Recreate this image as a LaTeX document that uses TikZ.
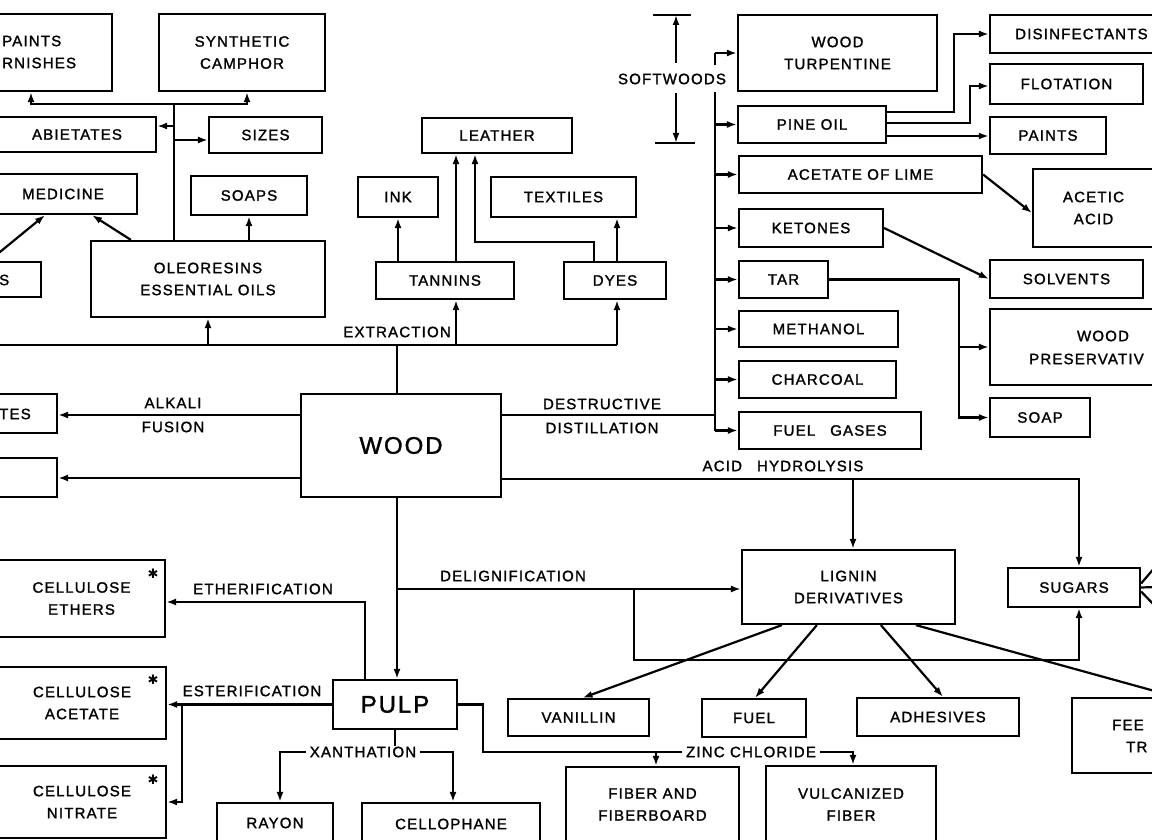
\documentclass[tikz,border=0pt]{standalone}
\usepackage{fontspec}
\setmainfont{Liberation Sans}[LetterSpace=8,FakeBold=1.5]
\newfontfamily\djv{DejaVu Sans}
\usetikzlibrary{arrows.meta,calc}
\newcommand\fs{\fontsize{15}{22}\selectfont}
\newcommand\bigfs{\fontsize{24}{28}\selectfont}
\newcommand\bx[6]{\node[box,minimum width={(#4-#2)*1pt},minimum height={(#5-#3)*1pt}] (#1) at ({(#2+#4)/2},{(#3+#5)/2}) {#6};}
\begin{document}
\begin{tikzpicture}[x=1pt,y=-1pt,
  box/.style={draw,line width=2.2pt,inner sep=0pt,align=center,font=\fs},
  lbl/.style={inner sep=1pt,font=\fs},
  conn/.style={line width=2.2pt},
  arr/.style={conn,-{Latex[length=10pt,width=7pt]}},
  star/.style={inner sep=0pt,font=\djv\fontsize{13}{13}\selectfont}]
\useasboundingbox (0,0) rectangle (1152,840);
\clip (0,0) rectangle (1152,840);
\fill[white] (0,0) rectangle (1152,840);

% ---------- top left ----------
\bx{paints}{-58}{14}{112}{91}{}
\node[lbl,anchor=west] (paintstxt1) at (1,41) {PAINTS};
\node[lbl,anchor=west] (paintstxt2) at (1,63) {RNISHES};
\bx{camphor}{159}{14}{325}{91}{SYNTHETIC\\CAMPHOR}
\bx{abietates}{-2}{117}{156}{152}{ABIETATES}
\bx{sizes}{209}{117}{322}{153}{SIZES}
\bx{medicine}{-11}{174}{137}{214}{MEDICINE}
\bx{soaps}{191}{176}{307}{215}{SOAPS}
\bx{oleo}{91}{241}{325}{317}{OLEORESINS\\ESSENTIAL OILS}
\bx{sbox}{-60}{262}{41}{297}{}
\node[lbl,anchor=west] (stxt) at (-2,280) {S};
\bx{tes}{-60}{394}{57}{433}{}
\node[lbl,anchor=west] (testxt) at (-2,414) {TES};
\bx{box2}{-60}{458}{57}{497}{}

% ---------- extraction products ----------
\bx{ink}{358}{177}{438}{217}{INK}
\bx{leather}{422}{118}{572}{153}{LEATHER}
\bx{textiles}{491}{177}{636}{217}{TEXTILES}
\bx{tannins}{376}{262}{514}{299}{TANNINS}
\bx{dyes}{564}{262}{666}{299}{DYES}

% ---------- wood ----------
\node[box,font=\bigfs,minimum width=200pt,minimum height=103pt] (wood) at (401,445.5) {WOOD};

% ---------- distillation products ----------
\bx{turp}{738}{15}{937}{91}{WOOD\\TURPENTINE}
\bx{pineoil}{738}{106}{886}{143}{PINE OIL}
\bx{disinf}{990}{15}{1200}{53}{}
\node[lbl,anchor=west] (disinftxt) at (1014,34) {DISINFECTANTS};
\bx{flotation}{990}{64}{1143}{104}{FLOTATION}
\bx{paintsb}{990}{117}{1106}{154}{PAINTS}
\bx{acetate}{739}{156}{982}{193}{ACETATE OF LIME}
\bx{acetic}{1033}{169}{1154}{247}{ACETIC\\ACID}
\bx{ketones}{739}{209}{883}{247}{KETONES}
\bx{solvents}{990}{260}{1143}{298}{SOLVENTS}
\bx{tar}{739}{261}{828}{298}{TAR}
\bx{preserv}{990}{309}{1230}{385}{}
\node[lbl] (prestxt1) at (1103,336) {WOOD};
\node[lbl,anchor=west] (prestxt2) at (1028,359) {PRESERVATIV};
\bx{methanol}{739}{311}{898}{347}{METHANOL}
\bx{charcoal}{739}{361}{896}{398}{CHARCOAL}
\bx{soap}{990}{398}{1090}{437}{SOAP}
\bx{fuelgas}{739}{412}{921}{449}{FUEL\quad GASES}

% ---------- lignin / sugars ----------
\bx{lignin}{742}{550}{955}{624}{LIGNIN\\DERIVATIVES}
\bx{sugars}{1008}{568}{1140}{607}{SUGARS}
\bx{vanillin}{508}{699}{649}{736}{VANILLIN}
\bx{fuel}{702}{699}{806}{737}{FUEL}
\bx{adhes}{857}{698}{1019}{736}{ADHESIVES}
\bx{feed}{1072}{698}{1260}{773}{}
\node[lbl,anchor=west] (feedtxt1) at (1111,725) {FEE};
\node[lbl,anchor=west] (feedtxt2) at (1125,747) {TR};

% ---------- pulp ----------
\node[box,font=\bigfs,minimum width=124pt,minimum height=49pt] (pulp) at (395,704.5) {PULP};
\bx{cethers}{-2}{560}{165}{637}{CELLULOSE\\ETHERS}
\bx{cacet}{-2}{667}{166}{739}{CELLULOSE\\ACETATE}
\bx{cnitr}{-2}{766}{166}{838}{CELLULOSE\\NITRATE}
\node[star] (st1) at (153,574) {✱};
\node[star] (st2) at (153,680) {✱};
\node[star] (st3) at (153,780) {✱};
\bx{rayon}{217}{803}{333}{843}{RAYON}
\bx{cello}{362}{803}{540}{845}{CELLOPHANE}
\bx{fiber}{566}{767}{739}{842}{FIBER AND\\FIBERBOARD}
\bx{vulc}{766}{766}{936}{843}{VULCANIZED\\FIBER}

% ---------- oleoresin connectors ----------
\coordinate (t1) at (174,104);
\coordinate (ja) at (174,126);
\coordinate (js) at (174,140);
\draw[conn] (oleo.north -| t1) -- (t1);
\draw[arr] (t1) -| ($(paints.south)+(4,0)$);
\draw[arr] (t1) -| ($(camphor.south)+(5,0)$);
\draw[arr] (ja) -- (ja -| abietates.east);
\draw[arr] (js) -- (js -| sizes.west);
\draw[arr] (oleo.north -| soaps.south) -- (soaps.south);
\draw[arr] ($(oleo.north west)+(41,0)$) -- ($(medicine.south)+(29,0)$);
\draw[arr] ($(sbox.north east)+(-53,0)$) -- ($(medicine.south)+(-18,0)$);

% ---------- extraction ----------
\coordinate (ex) at (397,345);
\coordinate (exL) at (-10,345);
\coordinate (exR) at (617,345);
\coordinate (xt) at (456,345);
\draw[conn] (wood.north -| ex) -- (ex);
\draw[conn] (exL) -- (exR);
\draw[arr] (oleo.south |- ex) -- (oleo.south);
\draw[arr] (xt) -- (xt |- tannins.south);
\draw[arr] (exR) -- (exR |- dyes.south);
\node[lbl,anchor=east] (extr) at (452,332) {EXTRACTION};
\draw[arr] (tannins.north -| ink.south) -- (ink.south);
\draw[arr] (tannins.north -| xt) -- (xt |- leather.south);
\coordinate (dl1) at (594,242);
\coordinate (dl2) at (475,242);
\draw[arr] (dyes.north -| dl1) -- (dl1) -- (dl2) -- (dl2 |- leather.south);
\draw[arr] (dyes.north -| exR) -- (exR |- textiles.south);

% ---------- alkali fusion ----------
\coordinate (af) at (301,415);
\coordinate (w2) at (301,478);
\draw[arr] (af) -- (af -| tes.east);
\draw[arr] (w2) -- (w2 -| box2.east);
\node[lbl] (alk1) at (173,403) {ALKALI};
\node[lbl] (alk2) at (173,427) {FUSION};

% ---------- destructive distillation ----------
\coordinate (dd) at (715,415);
\coordinate (tt) at (715,53);
\coordinate (tg1) at (715,65);
\coordinate (tg2) at (715,92);
\draw[conn] (wood.east |- dd) -- (dd);
\draw[conn] (tt) -- (tg1);
\draw[conn] (tg2) -- (fuelgas.west -| tt);
\draw[arr] (tt) -- (tt -| turp.west);
\foreach \n in {pineoil,acetate,ketones,tar,methanol,charcoal,fuelgas}
  \draw[arr] (\n.west -| tt) -- (\n.west);
\node[lbl] (dest1) at (602,404) {DESTRUCTIVE};
\node[lbl] (dest2) at (602,428) {DISTILLATION};

% softwoods dimension
\coordinate (swt) at (676,15);
\coordinate (swb) at (676,143);
\coordinate (swm1) at (676,63);
\coordinate (swm2) at (676,93);
\draw[conn] ($(swt)+(-23,0)$) -- ($(swt)+(15,0)$);
\draw[conn] ($(swb)+(-21,0)$) -- ($(swb)+(19,0)$);
\draw[arr] (swm1) -- (swt);
\draw[arr] (swm2) -- (swb);
\node[lbl] (soft) at (672,79) {SOFTWOODS};

% pine oil products
\coordinate (p1) at (886,112);
\coordinate (p2) at (886,123);
\coordinate (p3) at (886,136);
\coordinate (d1) at (954,34);
\coordinate (f1) at (970,86);
\draw[arr] (p1) -| (d1) -- (d1 -| disinf.west);
\draw[arr] (p2) -| (f1) -- (f1 -| flotation.west);
\draw[arr] (p3) -- (p3 -| paintsb.west);
\draw[arr] (acetate.east) -- ($(acetic.west)+(0,5)$);
\draw[arr] (ketones.east) -- (solvents.west);
\coordinate (tj) at (959,0);
\draw[arr] (tar.east) -- (tar.east -| tj) |- (soap.west);
\draw[arr] (tj |- preserv.west) -- (preserv.west);

% ---------- acid hydrolysis ----------
\coordinate (ah) at (1079,479);
\coordinate (ahl) at (853,479);
\draw[arr] (wood.east |- ah) -- (ah) -- (ah |- sugars.north);
\draw[arr] (ahl) -- (ahl |- lignin.north);
\node[lbl] (acid) at (783,466) {ACID\quad HYDROLYSIS};

% ---------- wood to pulp, delignification ----------
\coordinate (dl) at (397,589);
\coordinate (sb) at (634,589);
\coordinate (sb2) at (1079,660);
\draw[arr] (wood.south -| dl) -- (dl |- pulp.north);
\draw[arr] (dl) -- (dl -| lignin.west);
\draw[arr] (sb) |- (sb2) -- (sb2 |- sugars.south);
\node[lbl] (delig) at (513,576) {DELIGNIFICATION};

\draw[arr] ($(lignin.south west)+(41,0)$) -- ($(vanillin.north)+(4,0)$);
\draw[arr] ($(lignin.south west)+(76,0)$) -- ($(fuel.north)+(1,0)$);
\draw[arr] ($(lignin.south west)+(140,0)$) -- ($(adhes.north)+(5,0)$);
\coordinate (fd) at (1180,698);
\draw[arr] ($(lignin.south west)+(175,0)$) -- (fd);
\coordinate (sg1) at (1156,566);
\coordinate (sg2) at (1156,587);
\coordinate (sg3) at (1156,607);
\draw[conn] ($(sugars.east)+(0,-4)$) -- (sg1);
\draw[conn] (sugars.east) -- (sg2);
\draw[conn] ($(sugars.east)+(0,4)$) -- (sg3);

% ---------- pulp connectors ----------
\coordinate (et) at (365,602);
\draw[arr] (pulp.north -| et) -- (et) -- (et -| cethers.east);
\node[lbl] (ether) at (263,589) {ETHERIFICATION};
\coordinate (eb) at (182,704.5);
\draw[arr] (pulp.west) -- (pulp.west -| cacet.east);
\draw[arr] (eb) |- (cnitr.east);
\node[lbl] (ester) at (252,691) {ESTERIFICATION};
\coordinate (xl) at (280,752);
\coordinate (xr) at (453,752);
\draw[conn] (pulp.south) -- (pulp.south |- xl);
\draw[arr] (pulp.south |- xl) -- (xl) -- (xl |- rayon.north);
\draw[arr] (pulp.south |- xl) -- (xr) -- (xr |- cello.north);
\node[lbl,fill=white,inner xsep=4pt] (xan) at (363,752) {XANTHATION};
\coordinate (z1) at (483,752);
\coordinate (z2) at (853,752);
\coordinate (z3) at (656,752);
\draw[arr] (pulp.east) -| (z1) -- (z2) -- (z2 |- vulc.north);
\draw[arr] (z3) -- (z3 |- fiber.north);
\node[lbl,fill=white,inner xsep=4pt] (zinc) at (751,752) {ZINC CHLORIDE};
\end{tikzpicture}
\end{document}
